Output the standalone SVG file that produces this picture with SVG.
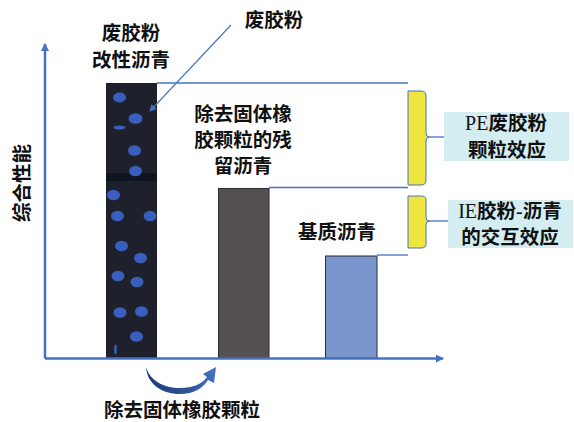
<svg xmlns="http://www.w3.org/2000/svg" width="574" height="422" viewBox="0 0 574 422">
<defs>
<style>
.t{font-family:"Noto Sans CJK SC","Noto Sans",sans-serif;font-weight:bold;font-size:19.5px;fill:#111;text-anchor:middle}
.s{font-family:"Liberation Serif",serif;font-weight:normal;font-size:20px}
.ax{stroke:#4472C4;stroke-width:2.5;fill:none}
.gl{stroke:#4472C4;stroke-width:1.3;fill:none}
.dot{fill:#3A5EBE}
.brace{fill:#EFE53F;stroke:#4472C4;stroke-width:1}
.box{fill:#D3EDF1}
</style>
<marker id="ah" markerWidth="8" markerHeight="8" refX="7" refY="4" orient="auto" markerUnits="userSpaceOnUse"><path d="M0,0 L8,4 L0,8 Z" fill="#4472C4"/></marker>
<marker id="ps" markerWidth="7" markerHeight="7" refX="6" refY="3.5" orient="auto" markerUnits="userSpaceOnUse"><path d="M0,0 L7,3.5 L0,7 Z" fill="#4472C4"/></marker>
<linearGradient id="cg" x1="0" y1="0" x2="1" y2="0"><stop offset="0" stop-color="#1F3A78"/><stop offset="0.6" stop-color="#2F5597"/><stop offset="1" stop-color="#4472C4"/></linearGradient>
</defs>
<rect width="574" height="422" fill="#fff"/>

<g id="bar-modified">
<rect x="106" y="83" width="51" height="275" fill="#1E212B"/>
<rect x="106" y="173" width="51" height="8" fill="#0E1420"/>
<ellipse class="dot" cx="119.5" cy="97.5" rx="6.5" ry="5"/>
<ellipse class="dot" cx="135.5" cy="118.5" rx="7" ry="5.3"/>
<ellipse class="dot" cx="119.5" cy="127.5" rx="6" ry="2"/>
<ellipse class="dot" cx="134.5" cy="150.5" rx="6.5" ry="5.3"/>
<ellipse class="dot" cx="135.5" cy="171" rx="6.5" ry="5.3"/>
<ellipse class="dot" cx="113.5" cy="195" rx="6.5" ry="5.3"/>
<ellipse class="dot" cx="117.5" cy="216" rx="6.5" ry="5.3"/>
<ellipse class="dot" cx="150" cy="216" rx="6.5" ry="5.3"/>
<ellipse class="dot" cx="121.5" cy="246" rx="6.5" ry="5.3"/>
<ellipse class="dot" cx="140.5" cy="258" rx="6.5" ry="5.3"/>
<ellipse class="dot" cx="118" cy="276" rx="6.5" ry="5.3"/>
<ellipse class="dot" cx="137" cy="282" rx="6.5" ry="5.3"/>
<ellipse class="dot" cx="120" cy="312.5" rx="6.5" ry="5.3"/>
<ellipse class="dot" cx="141.5" cy="311.5" rx="6.5" ry="5.3"/>
<ellipse class="dot" cx="136.5" cy="336.5" rx="6.5" ry="5.3"/>
<ellipse class="dot" cx="115.5" cy="349.5" rx="1.3" ry="5"/>
</g>

<g id="bar-residual">
<rect x="218.5" y="188.5" width="50.5" height="169.5" fill="#555153" stroke="#2A2A2A" stroke-width="1"/>
</g>

<g id="bar-base">
<rect x="325.5" y="256" width="51.5" height="102" fill="#7A97CD" stroke="#2A2A3A" stroke-width="1"/>
</g>

<g id="axes">
<line class="ax" x1="45" y1="358.5" x2="45" y2="44" marker-end="url(#ah)"/>
<line class="ax" x1="45" y1="358.5" x2="443" y2="358.5" marker-end="url(#ah)"/>
</g>

<g id="connectors">
<line class="gl" x1="157" y1="83" x2="408" y2="83"/>
<line class="gl" x1="269" y1="187.5" x2="408" y2="187.5"/>
<line class="gl" x1="377" y1="255" x2="408" y2="255"/>
<line x1="231" y1="25" x2="150" y2="111" stroke="#4472C4" stroke-width="1.1" marker-end="url(#ps)"/>
<line class="gl" x1="428" y1="137" x2="444" y2="137"/>
<line class="gl" x1="428" y1="221" x2="448" y2="221"/>
<path d="M146,367 C147,384 162,394 180,394 C194,394 203,388 208,380 L214,383 L216,367 L203,374 L207,377 C202,384 193,388 180,388 C164,388 150,381 146,367 Z" fill="url(#cg)"/>
</g>

<g id="brace-pe">
<path class="brace" d="M408,91 L421,91 Q426,91 426,96 L426,133 Q426,137 429,137 Q426,137 426,141 L426,180 Q426,185 421,185 L408,185 Z"/>
</g>
<g id="brace-ie">
<path class="brace" d="M408,196 L421,196 Q426,196 426,200 L426,217 Q426,221 429,221 Q426,221 426,225 L426,244 Q426,248 421,248 L408,248 Z"/>
</g>

<g id="box-pe">
<rect class="box" x="444" y="112" width="125" height="49"/>
<text class="t" x="506" y="130"><tspan class="s">PE</tspan>废胶粉</text>
<text class="t" x="507" y="157">颗粒效应</text>
</g>
<g id="box-ie">
<rect class="box" x="448" y="200" width="125" height="48"/>
<text class="t" x="510" y="218"><tspan class="s">IE</tspan>胶粉<tspan class="s">-</tspan>沥青</text>
<text class="t" x="510" y="244">的交互效应</text>
</g>

<g id="labels">
<text class="t" x="131" y="40">废胶粉</text>
<text class="t" x="131" y="67">改性沥青</text>
<text class="t" x="274" y="27">废胶粉</text>
<text class="t" x="243" y="121">除去固体橡</text>
<text class="t" x="243" y="147">胶颗粒的残</text>
<text class="t" x="243" y="173">留沥青</text>
<text class="t" x="337" y="239">基质沥青</text>
<text class="t" x="182" y="417">除去固体橡胶颗粒</text>
<text class="t" transform="translate(29,183) rotate(-90)">综合性能</text>
</g>
</svg>
